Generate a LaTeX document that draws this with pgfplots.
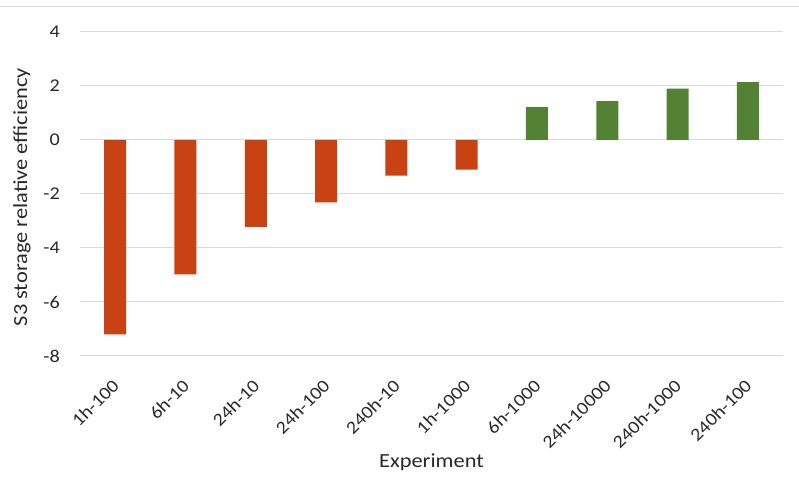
\documentclass[border=0pt]{standalone}
\usepackage{pgfplots}
\pgfplotsset{compat=1.18}
\usepackage{fontspec}
\setmainfont{Carlito}[FakeStretch=1.12]
\definecolor{redbar}{RGB}{201,66,20}
\definecolor{greenbar}{RGB}{84,130,53}
\definecolor{gridc}{RGB}{217,217,217}
\definecolor{txt}{RGB}{40,40,40}
\begin{document}
\begin{tikzpicture}[x=1pt,y=1pt]
\path[use as bounding box] (0,0) rectangle (799,478);
\draw[gridc,line width=1pt] (0,471) -- (799,471);
\begin{axis}[
  at={(80pt,122pt)}, anchor=south west,
  scale only axis, width=703pt, height=324pt,
  xmin=-0.5, xmax=9.5, ymin=-8, ymax=4,
  ytick={-8,-6,...,4},
  xtick={0,...,9},
  xticklabels={1h-100,6h-10,24h-10,24h-100,240h-10,1h-1000,6h-1000,24h-10000,240h-1000,240h-100},
  xticklabel style={xshift=-4pt, yshift=-22pt, rotate=45, anchor=north east, font=\fontsize{18}{20}\selectfont, text=txt, inner sep=0pt},
  yticklabel style={font=\fontsize{18}{20}\selectfont, text=txt, inner sep=0pt},
  /pgf/number format/assume math mode=true,
  ymajorgrids, grid style={gridc, line width=1pt},
  axis line style={draw=none},
  major tick length=0pt,
  xlabel={Experiment}, ylabel={S3 storage relative efficiency},
  xlabel style={at={(axis description cs:0.5,-0.327)}, anchor=center, font=\fontsize{20}{22}\selectfont, text=txt},
  ylabel style={at={(axis description cs:-0.0825,0.49)}, anchor=center, font=\fontsize{20}{22}\selectfont, text=txt},
  ybar, bar width=22pt, bar shift=0pt,
  yticklabel shift=20pt,
]
\addplot[fill=redbar, draw=none] coordinates {(0,-7.2) (1,-4.98) (2,-3.22) (3,-2.31) (4,-1.32) (5,-1.1)};
\addplot[fill=greenbar, draw=none] coordinates {(6,1.22) (7,1.44) (8,1.9) (9,2.14)};
\end{axis}
\end{tikzpicture}
\end{document}
